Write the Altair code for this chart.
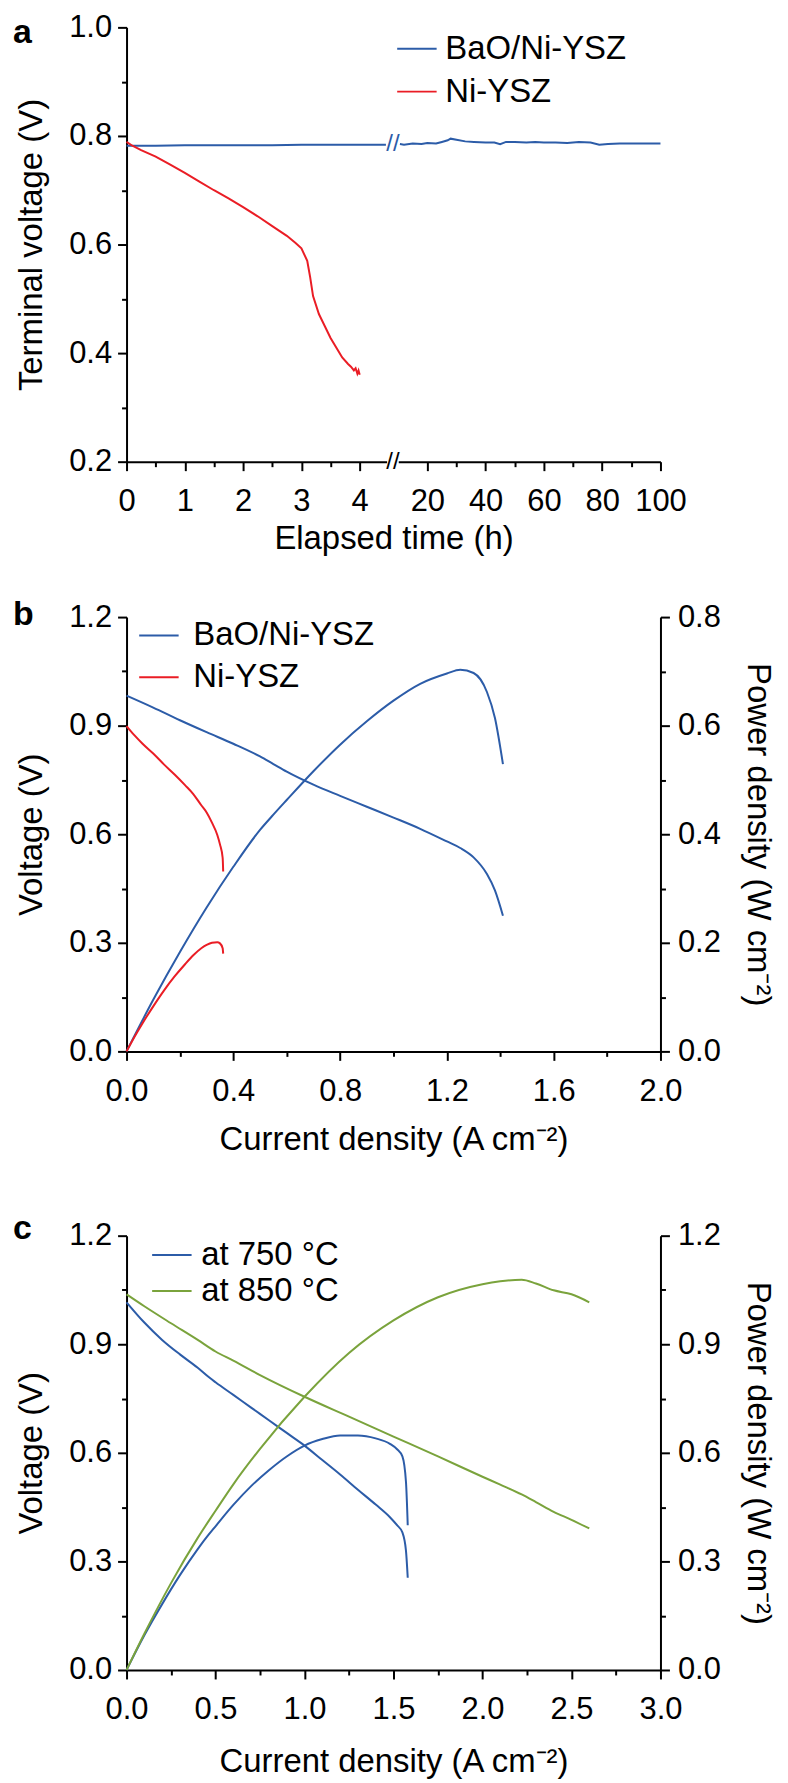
import altair as alt
import pandas as pd

FONT = "Liberation Sans"
BLUE = "#2c5ca8"
RED = "#ea1d25"
GREEN = "#7aa33c"
W = 536
H = 436

# ---------------- panel a : stability test (broken time axis) ----------------
A_SERIES = ["BaO/Ni-YSZ", "Ni-YSZ"]
a_blue1_t = [0, 0.5, 1, 1.5, 2, 2.5, 3, 3.5, 4, 4.45]
a_blue1_v = [0.782, 0.782, 0.783, 0.783, 0.783, 0.783, 0.784, 0.784, 0.784, 0.784]
a_blue2_t = [10.6, 12, 15, 18, 20, 23, 25, 27, 28, 30, 33, 36, 40, 43, 45, 47, 50,
             54, 57, 60, 64, 68, 72, 76, 79, 82, 86, 90, 95, 100]
a_blue2_v = [0.785, 0.784, 0.786, 0.785, 0.787, 0.786, 0.789, 0.792, 0.795, 0.793,
             0.790, 0.789, 0.788, 0.788, 0.785, 0.789, 0.789, 0.788, 0.789, 0.788,
             0.788, 0.787, 0.789, 0.788, 0.784, 0.785, 0.786, 0.786, 0.786, 0.786]
a_red_t = [0, 0.1, 0.25, 0.5, 0.75, 1.0, 1.25, 1.5, 1.75, 2.0, 2.25, 2.5, 2.75, 2.9,
           3.0, 3.1, 3.15, 3.2, 3.3, 3.4, 3.5, 3.6, 3.7, 3.8, 3.85, 3.9, 3.93, 3.96,
           3.98, 4.0]
a_red_v = [0.789, 0.782, 0.774, 0.762, 0.747, 0.732, 0.716, 0.700, 0.685, 0.669,
           0.652, 0.634, 0.616, 0.603, 0.593, 0.570, 0.540, 0.505, 0.472, 0.450,
           0.428, 0.410, 0.392, 0.380, 0.375, 0.368, 0.372, 0.362, 0.368, 0.360]
a_major_left = [0, 1, 2, 3, 4]
a_major_right = [20, 40, 60, 80, 100]
a_minor_left = [0.5, 1.5, 2.5, 3.5]
a_minor_right = [30, 50, 70, 90]
a_y_major = [0.2, 0.4, 0.6, 0.8, 1.0]
a_y_minor = [0.3, 0.5, 0.7, 0.9]

U20 = 5.16      # axis position of the 20 h tick (after the break)
U_BREAK = 4.57  # centre of the axis break


def to_u(t):
    return t if t <= 5 else U20 + (t - 20) / 20.0


U_EXPR = f"datum.t <= 5 ? datum.t : {U20} + (datum.t - 20) / 20"
U_END = to_u(100)

# ---------------- panel b : I-V-P curves ----------------
B_SERIES = ["BaO/Ni-YSZ", "Ni-YSZ"]
b_blue_i = [0, 0.1, 0.2, 0.3, 0.4, 0.5, 0.55, 0.6, 0.7, 0.8, 0.9, 1.0, 1.1, 1.2,
            1.25, 1.3, 1.35, 1.38, 1.41]
b_blue_v = [0.983, 0.95, 0.915, 0.882, 0.85, 0.815, 0.794, 0.773, 0.737, 0.706, 0.676,
            0.646, 0.615, 0.58, 0.562, 0.536, 0.49, 0.445, 0.375]
b_blue_p = [0, 0.095, 0.183, 0.265, 0.34, 0.408, 0.436, 0.463, 0.516, 0.565, 0.608,
            0.646, 0.677, 0.696, 0.703, 0.697, 0.662, 0.614, 0.529]
b_red_i = [0, 0.03, 0.06, 0.1, 0.14, 0.18, 0.22, 0.25, 0.28, 0.3, 0.32, 0.34, 0.35,
           0.36, 0.362]
b_red_v = [0.899, 0.873, 0.85, 0.823, 0.793, 0.765, 0.735, 0.711, 0.68, 0.66, 0.632,
           0.598, 0.572, 0.535, 0.497]
b_red_p = [0, 0.027, 0.052, 0.083, 0.112, 0.138, 0.161, 0.177, 0.19, 0.196, 0.2,
           0.201, 0.199, 0.19, 0.18]

# ---------------- panel c : temperature comparison ----------------
C_SERIES = ["at 750 °C", "at 850 °C"]
c_blue_i = [0, 0.1, 0.2, 0.3, 0.4, 0.46, 0.5, 0.6, 0.7, 0.8, 0.9, 1.0, 1.1, 1.2, 1.3,
            1.4, 1.48, 1.52, 1.55, 1.57, 1.58]
c_blue_v = [1.016, 0.96, 0.912, 0.872, 0.835, 0.81, 0.795, 0.76, 0.725, 0.69, 0.655,
            0.62, 0.58, 0.54, 0.498, 0.457, 0.422, 0.40, 0.38, 0.33, 0.255]
c_blue_p = [0, 0.096, 0.182, 0.262, 0.334, 0.373, 0.397, 0.456, 0.508, 0.552, 0.59,
            0.62, 0.638, 0.648, 0.648, 0.64, 0.625, 0.61, 0.59, 0.52, 0.40]
c_green_i = [0, 0.1, 0.25, 0.4, 0.5, 0.6, 0.75, 1.0, 1.25, 1.5, 1.75, 2.0, 2.1, 2.22,
             2.3, 2.4, 2.5, 2.6]
c_green_v = [1.038, 1.005, 0.958, 0.912, 0.88, 0.855, 0.815, 0.755, 0.70, 0.645,
             0.59, 0.534, 0.512, 0.485, 0.464, 0.437, 0.415, 0.391]
c_green_p = [0, 0.1, 0.24, 0.365, 0.44, 0.513, 0.611, 0.755, 0.876, 0.966, 1.03,
             1.066, 1.074, 1.078, 1.068, 1.049, 1.038, 1.016]


def major_axis(values, orient, title, fmt=None, label_pad=6, title_pad=10,
               label_expr=None, zindex=None):
    kw = dict(values=values, orient=orient, tickSize=9, labelPadding=label_pad,
              titlePadding=title_pad, labelFlush=False, labelOverlap=False,
              title=title)
    if fmt:
        kw["format"] = fmt
    if label_expr:
        kw["labelExpr"] = label_expr
    if zindex is not None:
        kw["zindex"] = zindex
    return alt.Axis(**kw)


def minor_axis(values, orient):
    return alt.Axis(values=values, orient=orient, tickSize=5, labels=False,
                    domain=False, title=None)


def legend(x, y, label_offset, row_pad):
    return alt.Legend(title=None, orient="none", legendX=x, legendY=y,
                      symbolType="M-1.2,0H1.2", symbolSize=1089, symbolStrokeWidth=2,
                      labelFont=FONT, labelFontSize=33, labelColor="black",
                      labelLimit=400, labelOffset=label_offset, rowPadding=row_pad,
                      padding=0)


def tag(letter, y):
    return alt.Chart(pd.DataFrame({"tag": [letter]})).mark_text(
        font=FONT, fontSize=34, fontWeight="bold", align="left",
        baseline="alphabetic", color="black"
    ).encode(x=alt.value(-114), y=alt.value(y), text="tag:N")


# ---- panel a chart ----
rows = []
for t, v in zip(a_blue1_t, a_blue1_v):
    rows.append({"t": t, "v": v, "series": A_SERIES[0], "seg": "b1"})
for t, v in zip(a_blue2_t, a_blue2_v):
    rows.append({"t": t, "v": v, "series": A_SERIES[0], "seg": "b2"})
for t, v in zip(a_red_t, a_red_v):
    rows.append({"t": t, "v": v, "series": A_SERIES[1], "seg": "r"})
df_a = pd.DataFrame(rows)

a_xs = alt.Scale(domain=[0, U_END], nice=False, zero=False)
a_ys = alt.Scale(domain=[0.2, 1.0], nice=False, zero=False)
a_major_x = [to_u(t) for t in a_major_left + a_major_right]
a_minor_x = [to_u(t) for t in a_minor_left + a_minor_right]
a_label_expr = (f"datum.value < 5 ? format(datum.value, 'd') : "
                f"format((datum.value - {U20}) * 20 + 20, '.0f')")

a_base = alt.Chart(df_a).transform_calculate(u=U_EXPR)
a_lines = a_base.mark_line(strokeWidth=2).encode(
    x=alt.X("u:Q", scale=a_xs,
            axis=major_axis(a_major_x, "bottom", "Elapsed time (h)", label_pad=16,
                            title_pad=6, label_expr=a_label_expr, zindex=0)),
    y=alt.Y("v:Q", scale=a_ys,
            axis=major_axis(a_y_major, "left", "Terminal voltage (V)", fmt=".1f",
                            title_pad=20)),
    color=alt.Color("series:N", scale=alt.Scale(domain=A_SERIES, range=[BLUE, RED]),
                    legend=legend(274, 4, 11, 8)),
    detail="seg:N",
)
a_minor = a_base.mark_line(opacity=0).encode(
    x=alt.X("u:Q", scale=a_xs, axis=minor_axis(a_minor_x, "bottom")),
    y=alt.Y("v:Q", scale=a_ys, axis=minor_axis(a_y_minor, "left")),
    detail="seg:N",
)
gap = pd.DataFrame({"u1": [U_BREAK - 0.1], "u2": [U_BREAK + 0.1],
                    "v1": [0.19], "v2": [0.21]})
a_gap = alt.Chart(gap).mark_rect(color="white").encode(
    x=alt.X("u1:Q", scale=a_xs, axis=None), x2="u2:Q",
    y=alt.Y("v1:Q", scale=a_ys, axis=None), y2="v2:Q",
)
brk = pd.DataFrame({"u": [U_BREAK, U_BREAK], "v": [0.2, 0.785],
                    "sym": ["//", "//"], "col": ["black", BLUE]})
a_slash = alt.Chart(brk).mark_text(font=FONT, fontSize=24).encode(
    x=alt.X("u:Q", scale=a_xs, axis=None),
    y=alt.Y("v:Q", scale=a_ys, axis=None),
    text="sym:N",
    color=alt.Color("col:N", scale=None),
)
panel_a = alt.layer(a_lines, a_minor, a_gap, a_slash, tag("a", 16)).resolve_axis(
    x="independent", y="independent").properties(width=W, height=H)


# ---- helper for panels b and c ----
def iv_panel(series, colors, v_sets, p_sets, x_dom, x_major, x_minor, yr_dom,
             yr_major, yr_minor, leg, letter, letter_y, x_title_pad):
    vrows, prows = [], []
    for s, (i_list, v_list) in zip(series, v_sets):
        for i, v in zip(i_list, v_list):
            vrows.append({"i": i, "val": v, "series": s})
    for s, (i_list, p_list) in zip(series, p_sets):
        for i, p in zip(i_list, p_list):
            prows.append({"i": i, "val": p, "series": s})
    dv = pd.DataFrame(vrows)
    dp = pd.DataFrame(prows)
    xs = alt.Scale(domain=x_dom, nice=False, zero=False)
    yl = alt.Scale(domain=[0, 1.2], nice=False, zero=False)
    yr = alt.Scale(domain=yr_dom, nice=False, zero=False)
    col = alt.Color("series:N", scale=alt.Scale(domain=series, range=colors),
                    legend=leg)
    xt = "Current density (A cm\u207b\u00b2)"
    v_line = alt.Chart(dv).mark_line(strokeWidth=2, interpolate="monotone").encode(
        x=alt.X("i:Q", scale=xs, axis=major_axis(x_major, "bottom", xt, fmt=".1f",
                                                 label_pad=16, title_pad=x_title_pad)),
        y=alt.Y("val:Q", scale=yl,
                axis=major_axis([0, 0.3, 0.6, 0.9, 1.2], "left", "Voltage (V)",
                                fmt=".1f", title_pad=20)),
        color=col,
    )
    p_line = alt.Chart(dp).mark_line(strokeWidth=2, interpolate="monotone").encode(
        x=alt.X("i:Q", scale=xs, axis=None),
        y=alt.Y("val:Q", scale=yr,
                axis=major_axis(yr_major, "right", "Power density (W cm\u207b\u00b2)",
                                fmt=".1f", label_pad=8, title_pad=20)),
        color=col,
    )
    v_minor = alt.Chart(dv).mark_line(opacity=0).encode(
        x=alt.X("i:Q", scale=xs, axis=minor_axis(x_minor, "bottom")),
        y=alt.Y("val:Q", scale=yl, axis=minor_axis([0.15, 0.45, 0.75, 1.05], "left")),
    )
    p_minor = alt.Chart(dp).mark_line(opacity=0).encode(
        x=alt.X("i:Q", scale=xs, axis=None),
        y=alt.Y("val:Q", scale=yr, axis=minor_axis(yr_minor, "right")),
    )
    return alt.layer(v_line, p_line, v_minor, p_minor, tag(letter, letter_y)).resolve_scale(
        y="independent").resolve_axis(x="independent", y="independent").properties(
        width=W, height=H)


panel_b = iv_panel(
    B_SERIES, [BLUE, RED],
    [(b_blue_i, b_blue_v), (b_red_i, b_red_v)],
    [(b_blue_i, b_blue_p), (b_red_i, b_red_p)],
    [0, 2.0], [0, 0.4, 0.8, 1.2, 1.6, 2.0], [0.2, 0.6, 1.0, 1.4, 1.8],
    [0, 0.8], [0, 0.2, 0.4, 0.6, 0.8], [0.1, 0.3, 0.5, 0.7],
    legend(15, 1, 17, 7), "b", 8, 17,
)
panel_c = iv_panel(
    C_SERIES, [BLUE, GREEN],
    [(c_blue_i, c_blue_v), (c_green_i, c_green_v)],
    [(c_blue_i, c_blue_p), (c_green_i, c_green_p)],
    [0, 3.0], [0, 0.5, 1.0, 1.5, 2.0, 2.5, 3.0], [0.25, 0.75, 1.25, 1.75, 2.25, 2.75],
    [0, 1.2], [0, 0.3, 0.6, 0.9, 1.2], [0.15, 0.45, 0.75, 1.05],
    legend(28, 2, 12, 1), "c", 3, 21,
)

lower = alt.vconcat(panel_b, panel_c, spacing=185, bounds="flush").resolve_scale(
    color="independent")
chart = alt.vconcat(
    panel_a, lower, spacing=156, bounds="flush",
    padding={"left": 5, "top": 0, "right": 6, "bottom": 0},
).resolve_scale(color="independent").configure_axis(
    labelFont=FONT, labelFontSize=31, titleFont=FONT, titleFontSize=33,
    titleFontWeight="normal", labelColor="black", titleColor="black",
    domainColor="black", tickColor="black", domainWidth=2, tickWidth=2, grid=False,
).configure_view(stroke=None)

chart.save("out.html", embed_options={"renderer": "svg", "actions": False})
